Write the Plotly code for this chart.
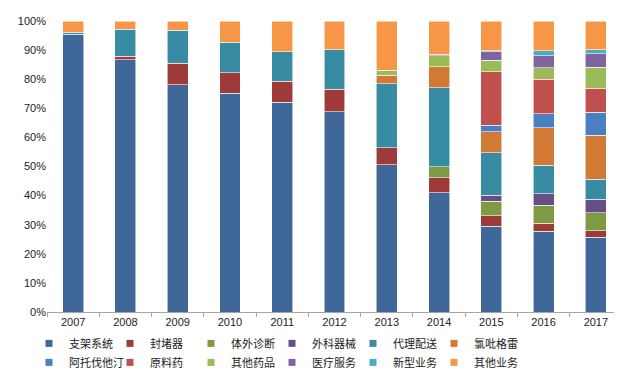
import plotly.graph_objects as go

years = ["2007", "2008", "2009", "2010", "2011", "2012", "2013", "2014", "2015", "2016", "2017"]

series_names = ["支架系统", "封堵器", "体外诊断", "外科器械", "代理配送", "氯吡格雷",
                "阿托伐他汀", "原料药", "其他药品", "医疗服务", "新型业务", "其他业务"]

zhijia = [95.5, 86.6, 78.1, 75.1, 72.0, 68.9, 50.6, 41.0, 29.5, 27.7, 25.7]
fengduqi = [None, 1.3, 7.4, 7.2, 7.3, 7.6, 5.9, 5.2, 3.5, 2.8, 2.2]
tiwai = [None, None, None, None, None, None, None, 3.7, 5.1, 6.2, 6.2]
waike = [None, None, None, None, None, None, None, None, 2.1, 4.0, 4.6]
daili = [0.6, 9.2, 11.3, 10.4, 10.1, 13.7, 22.0, 27.2, 14.5, 9.8, 6.9]
lvbi = [None, None, None, None, None, None, 2.8, 7.2, 7.2, 12.9, 15.1]
atuo = [None, None, None, None, None, None, None, None, 2.2, 4.7, 8.0]
yuanliao = [None, None, None, None, None, None, None, None, 18.4, 11.8, 8.2]
qitayao = [None, None, None, None, None, None, 1.7, 3.7, 4.0, 4.0, 7.2]
yiliao = [None, None, None, None, None, None, None, 0.6, 2.9, 4.1, 4.6]
xinxing = [None, None, None, None, None, None, None, None, 0.4, 1.8, 1.5]
qita = [3.9, 2.9, 3.2, 7.3, 10.6, 9.8, 17.0, 11.4, 10.2, 10.2, 9.8]

values = [zhijia, fengduqi, tiwai, waike, daili, lvbi, atuo, yuanliao, qitayao, yiliao, xinxing, qita]

colors = ["#3F6899", "#9E3B39", "#7E9A42", "#664E86", "#378CA3", "#D07A35",
          "#4A7FC1", "#C0504D", "#9BBB59", "#8064A2", "#4BACC6", "#F79646"]

fig = go.Figure()
for name, vals, col in zip(series_names, values, colors):
    fig.add_trace(go.Bar(
        x=years, y=vals, name=name, showlegend=False, legendgroup=name,
        marker=dict(color=col, line=dict(color="rgba(255,255,255,0.7)", width=0.8)),
    ))

legend_ids = ["legend", "legend2", "legend3", "legend4", "legend5", "legend6"]
for i, (name, col) in enumerate(zip(series_names, colors)):
    fig.add_trace(go.Scatter(
        x=[None], y=[None], mode="markers", name=name, legendgroup=name,
        legend=legend_ids[i % 6],
        marker=dict(symbol="square", size=7, color=col),
    ))

plot_left, plot_w = 39, 575
legend_layout = {}
for c, lid in enumerate(legend_ids):
    legend_layout[lid] = dict(
        orientation="v",
        x=(21 + 81 * c - plot_left) / plot_w, xanchor="left",
        y=-0.058, yanchor="top",
        font=dict(family="Noto Sans CJK SC", size=11, color="#222"),
        itemwidth=30,
        traceorder="normal",
        tracegroupgap=0,
        bgcolor="rgba(0,0,0,0)",
    )

fig.update_layout(
    barmode="stack",
    bargap=0.6,
    width=622, height=373,
    margin=dict(l=39, r=8, t=13, b=69, autoexpand=False),
    paper_bgcolor="white",
    plot_bgcolor="white",
    font=dict(family="Liberation Sans, Arial, sans-serif", size=11, color="#222"),
    showlegend=True,
    xaxis=dict(
        type="category",
        showline=True, linecolor="#A6A6A6", linewidth=1,
        ticks="outside", tickson="boundaries", ticklen=4, tickcolor="#A6A6A6",
        tickfont=dict(family="Liberation Sans, Arial, sans-serif", size=11, color="#222"),
        showgrid=False,
    ),
    yaxis=dict(
        range=[0, 100], dtick=10, ticksuffix="%",
        showgrid=False, showline=False, zeroline=False,
        tickfont=dict(family="Liberation Sans, Arial, sans-serif", size=11, color="#222"),
    ),
    **legend_layout,
)

fig.write_html("out.html")
